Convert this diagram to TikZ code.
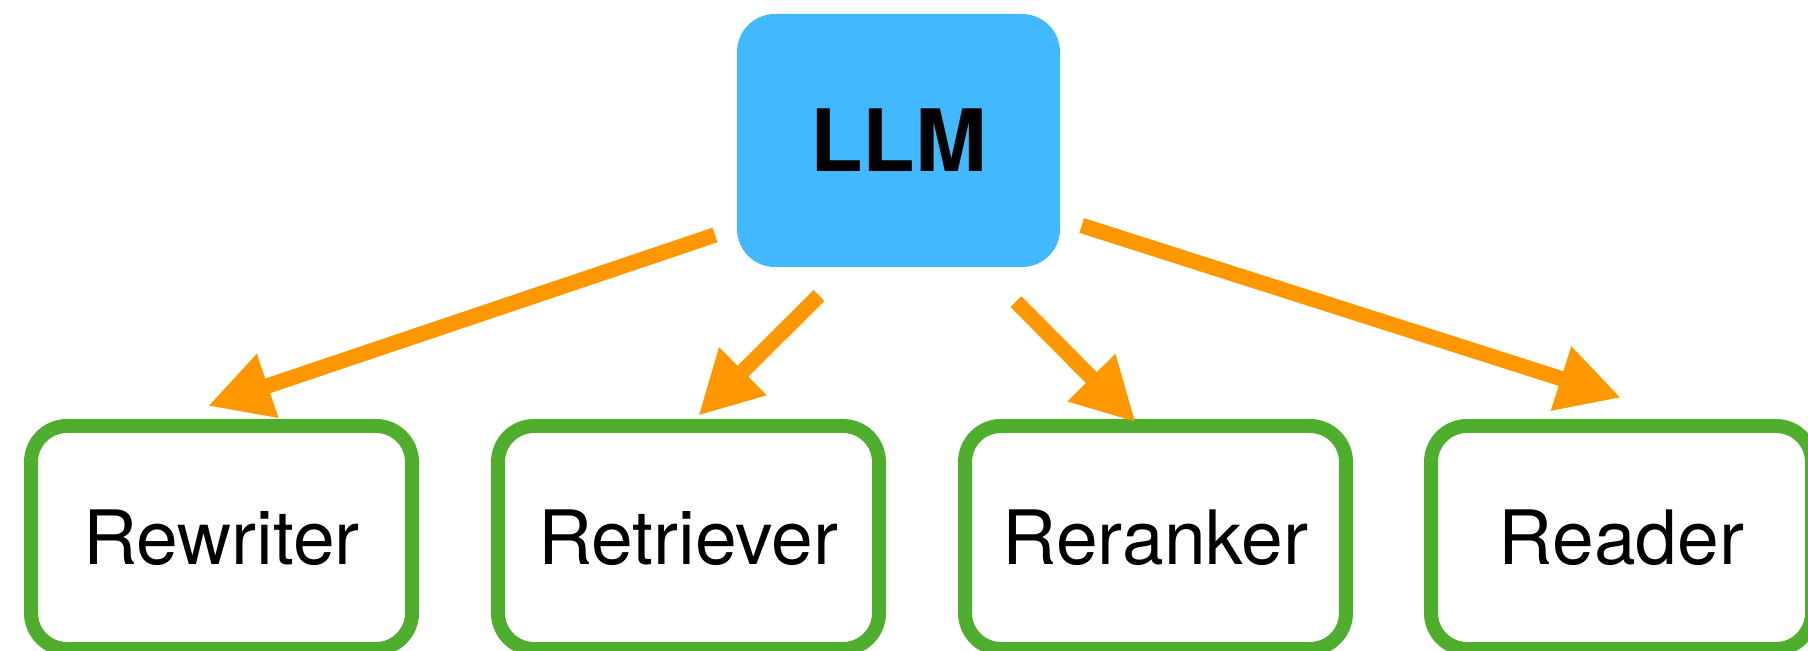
\documentclass[tikz,border=0pt]{standalone}
\usepackage{fontspec}
\setmainfont{TeX Gyre Heros}
\usetikzlibrary{arrows.meta}
\definecolor{llmblue}{RGB}{66,184,254}
\definecolor{boxgreen}{RGB}{80,174,46}
\definecolor{arroworange}{RGB}{255,151,0}
\begin{document}
\begin{tikzpicture}[x=0.5pt,y=-0.5pt,
  llmbox/.style={rectangle, rounded corners=19pt, fill=llmblue, minimum width=161.5pt, minimum height=126.5pt, inner sep=0pt, font=\fontsize{43}{48}\selectfont\bfseries},
  modbox/.style={rectangle, rounded corners=18pt, draw=boxgreen, line width=7pt, fill=white, minimum width=190.5pt, minimum height=111.5pt, inner sep=0pt, font=\fontsize{37.5}{42}\selectfont},
  flow/.style={draw=arroworange, line width=7.7pt, -{Triangle[length=31.5pt,width=31.5pt]}, arroworange}
]
\useasboundingbox (0,0) rectangle (1808,651);
\node[llmbox] (llm) at (898.5,140.5) {LLM};
\node[modbox] (rewriter) at (221.5,537.5) {Rewriter};
\node[modbox] (retriever) at (688.5,537.5) {Retriever};
\node[modbox] (reranker) at (1155.5,537.5) {Reranker};
\node[modbox] (reader) at (1621.5,537.5) {Reader};
\coordinate (s1) at (715,235);
\coordinate (t1) at (208,406);
\coordinate (s2) at (819,295.5);
\coordinate (t2) at (698.3,415.7);
\coordinate (s3) at (1016,301.7);
\coordinate (t3) at (1135.7,422.3);
\coordinate (s4) at (1081.7,225.5);
\coordinate (t4) at (1621,397.7);
\draw[flow] (s1) -- (t1);
\draw[flow] (s2) -- (t2);
\draw[flow] (s3) -- (t3);
\draw[flow] (s4) -- (t4);
\end{tikzpicture}
\end{document}
